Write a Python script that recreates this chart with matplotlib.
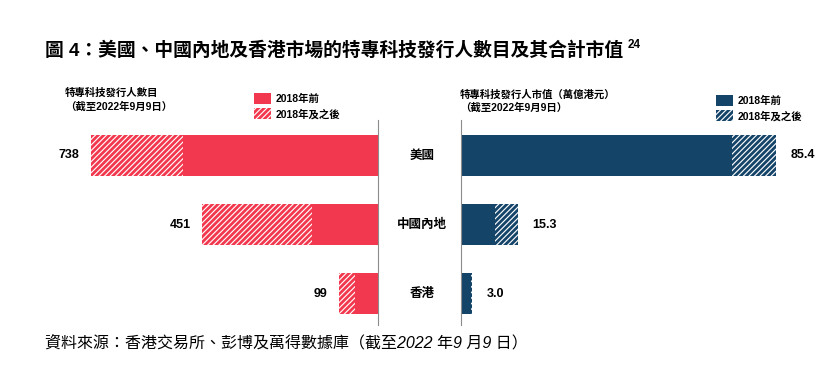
import matplotlib.pyplot as plt
import matplotlib as mpl
from matplotlib.patches import Patch

plt.rcParams['font.family'] = ['Liberation Sans', 'Noto Sans CJK TC', 'DejaVu Sans']
plt.rcParams['hatch.linewidth'] = 2.0

markets = ['美國', '中國內地', '香港']
count_before = [501, 170, 59]
count_after = [237, 281, 40]
count_total = ['738', '451', '99']
cap_before = [73.5, 9.2, 2.6]
cap_after = [11.9, 6.2, 0.4]
cap_total = ['85.4', '15.3', '3.0']

red = '#F2384E'
navy = '#154469'

W, H = 839, 377
fig = plt.figure(figsize=(W / 100, H / 100), dpi=100)


def px_axes(x0, y0, x1, y1):
    return fig.add_axes([x0 / W, 1 - y1 / H, (x1 - x0) / W, (y1 - y0) / H])


ypos = list(range(len(markets)))
bh = 0.59
hatch = '//////'

# left panel: number of issuers (bars grow to the left)
axl = px_axes(40, 120, 378, 325)
axl.barh(ypos, count_before, height=bh, color=red, linewidth=0)
axl.barh(ypos, count_after, left=count_before, height=bh, color='white',
         edgecolor=red, hatch=hatch, linewidth=0)
for y, b, a, t in zip(ypos, count_before, count_after, count_total):
    axl.text(b + a + 30, y, t, ha='right', va='center', fontsize=9, fontweight='bold')
axl.set_xlim(868, 0)
axl.set_ylim(2.45, -0.513)

# right panel: market cap
axr = px_axes(461, 120, 839, 325)
axr.barh(ypos, cap_before, height=bh, color=navy, linewidth=0)
axr.barh(ypos, cap_after, left=cap_before, height=bh, color='white',
         edgecolor=navy, hatch=hatch, linewidth=0)
for y, b, a, t in zip(ypos, cap_before, cap_after, cap_total):
    axr.text(b + a + 4, y, t, ha='left', va='center', fontsize=9, fontweight='bold')
axr.set_xlim(0, 102.4)
axr.set_ylim(2.45, -0.513)

for ax in (axl, axr):
    ax.set_xticks([])
    ax.set_yticks([])
    for s in ax.spines.values():
        s.set_visible(False)
axl.spines['right'].set_visible(True)
axl.spines['right'].set_color('#8c8c8c')
axr.spines['left'].set_visible(True)
axr.spines['left'].set_color('#8c8c8c')

# category labels in the middle
mid = px_axes(378, 120, 461, 325)
mid.set_ylim(2.45, -0.513)
mid.set_xlim(0, 1)
mid.axis('off')
for y, m in zip(ypos, markets):
    mid.text(0.53, y, m, ha='center', va='center', fontsize=9, fontweight='bold')

title = fig.text(45 / W, 1 - 50 / H, '圖 4：美國、中國內地及香港市場的特專科技發行人數目及其合計市值',
                 fontsize=13.5, fontweight='bold', va='center', ha='left')
fig.canvas.draw()
fig.text(0, 0, '24', fontsize=8.5, fontweight='bold', va='center', ha='left',
         transform=mpl.transforms.offset_copy(
             fig.transFigure, fig=fig, x=title.get_window_extent().x1 + 5, y=fig.bbox.height - 45,
             units='dots'))

fig.text(65 / W, 1 - 93 / H, '特專科技發行人數目', fontsize=7.5, fontweight='bold', va='center')
fig.text(65 / W, 1 - 107 / H, '（截至2022年9月9日）', fontsize=7.5, fontweight='bold', va='center')
fig.text(460 / W, 1 - 95 / H, '特專科技發行人市值（萬億港元）', fontsize=7.5, fontweight='bold', va='center')
fig.text(460 / W, 1 - 108 / H, '（截至2022年9月9日）', fontsize=7.5, fontweight='bold', va='center')

fig.legend(handles=[Patch(facecolor=red, linewidth=0, label='2018年前'),
                    Patch(facecolor='white', edgecolor=red, hatch=hatch, linewidth=0,
                          label='2018年及之後')],
           loc='upper left', bbox_to_anchor=(245 / W, 1 - 84 / H), frameon=False,
           prop={'size': 7.5, 'weight': 'bold'}, handlelength=1.6, handleheight=1.2,
           handletextpad=0.4, labelspacing=0.4)
fig.legend(handles=[Patch(facecolor=navy, linewidth=0, label='2018年前'),
                    Patch(facecolor='white', edgecolor=navy, hatch=hatch, linewidth=0,
                          label='2018年及之後')],
           loc='upper left', bbox_to_anchor=(707 / W, 1 - 86 / H), frameon=False,
           prop={'size': 7.5, 'weight': 'bold'}, handlelength=1.6, handleheight=1.2,
           handletextpad=0.4, labelspacing=0.4)

fig.text(45 / W, 1 - 343 / H, '資料來源：香港交易所、彭博及萬得數據庫（截至2022 年9 月9 日）',
         fontsize=11.5, style='italic', va='center')

fig.savefig('out.png', dpi=100)
